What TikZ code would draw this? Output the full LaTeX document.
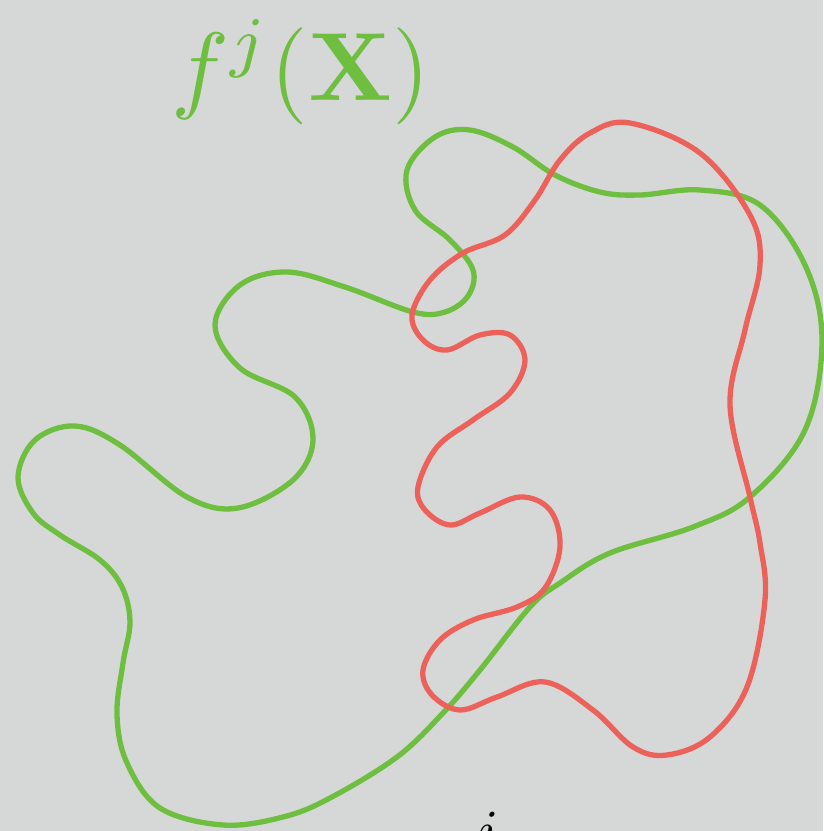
\documentclass[tikz,border=0pt]{standalone}
\usepackage{amsmath}
\definecolor{bg}{RGB}{214,216,216}
\definecolor{cgreen}{RGB}{110,190,64}
\definecolor{cred}{RGB}{236,98,90}
\tikzset{curve/.style={line width=5.3pt, line join=round}}
\begin{document}
\begin{tikzpicture}[x=1pt,y=-1pt]
\fill[bg] (0,0) rectangle (823,831);
\useasboundingbox (0,0) rectangle (823,831);
\node[text=cgreen, inner sep=0pt, anchor=base, scale=9.7] (title) at (301,100) {$f^{j}(\mathbf{X})$};
\draw[curve, cgreen] plot[smooth cycle, tension=0.6] coordinates {
(287,272) (345,287) (413,312) (445,312) (468,296) (473,270) (450,240) (415,210) (407,170) (435,137) (470,130) (513,147) (555,175) (600,192) (640,195) (700,190) (760,205) (805,265) (822,340) (805,430) (750,497) (693,527) (610,553) (560,583) (530,607) (480,670) (443,713) (397,757) (330,798) (283,817) (223,825) (160,808) (127,763) (117,715) (123,663) (130,622) (122,587) (100,560) (60,535) (33,513) (18,477) (35,440) (75,426) (120,445) (187,497) (238,508) (293,480) (313,440) (295,397) (240,368) (215,325) (240,285)};
\draw[curve, cred] plot[smooth cycle, tension=0.6] coordinates {
(630,123) (700,153) (750,215) (760,265) (745,330) (730,405) (750,497) (760,543) (765,600) (747,687) (710,737) (667,755) (633,747) (593,710) (545,682) (497,697) (460,710) (432,695) (423,670) (440,640) (473,620) (517,607) (545,588) (560,547) (550,510) (520,497) (480,513) (450,525) (425,510) (418,487) (437,447) (473,420) (510,393) (525,360) (510,335) (480,335) (447,350) (423,340) (412,315) (430,280) (463,253) (505,235) (535,200) (560,160) (590,133)};
\node[text=black, inner sep=0pt, anchor=base, scale=5.8] (lbl) at (488,850) {$i$};
\end{tikzpicture}
\end{document}
